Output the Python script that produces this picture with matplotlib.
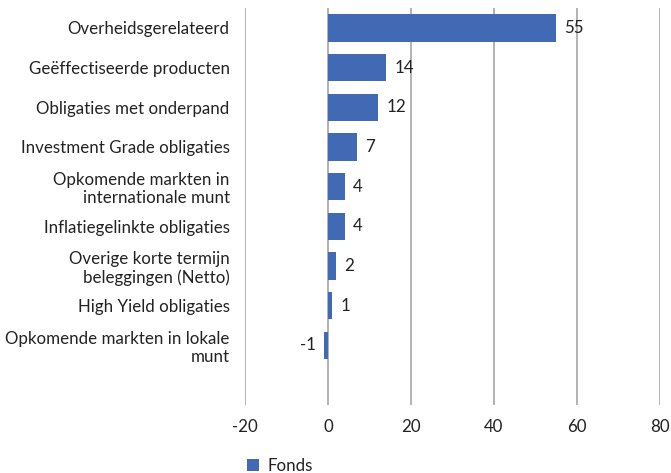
import matplotlib
matplotlib.use("Agg")
import matplotlib.pyplot as plt
import numpy as np

categories = [
    "Overheidsgerelateerd",
    "Geëffectiseerde producten",
    "Obligaties met onderpand",
    "Investment Grade obligaties",
    "Opkomende markten in\ninternationale munt",
    "Inflatiegelinkte obligaties",
    "Overige korte termijn\nbeleggingen (Netto)",
    "High Yield obligaties",
    "Opkomende markten in lokale\nmunt",
]
fonds = [55, 14, 12, 7, 4, 4, 2, 1, -1]
x_ticks = [-20, 0, 20, 40, 60, 80]

bar_color = "#4169b4"
text_color = "#222222"
grid_color = "#a6a6a6"

plt.rcParams["font.family"] = ["Lato", "DejaVu Sans"]
fs = 12.2

fig = plt.figure(figsize=(6.71, 4.73), dpi=100)
ax = fig.add_axes([245 / 671, 1 - 405 / 473, 415 / 671, 397 / 473])

y = np.arange(len(categories))
bars = ax.barh(y, fonds, height=0.69, color=bar_color, label="Fonds", zorder=3)

# waardelabels naast de balken
for yi, v in zip(y, fonds):
    if v >= 0:
        ax.text(v + 2, yi, str(v), va="center", ha="left", fontsize=fs, color=text_color)
    else:
        ax.text(v - 2, yi, str(v), va="center", ha="right", fontsize=fs, color=text_color)

ax.set_xlim(-20, 80)
ax.set_ylim(len(categories) + 0.5, -0.5)
ax.set_xticks(x_ticks)
ax.set_xticklabels([str(t) for t in x_ticks], fontsize=fs, color=text_color)
ax.set_yticks(y)
ax.set_yticklabels(categories, fontsize=fs, color=text_color, linespacing=1.15)
ax.tick_params(axis="both", length=0)
ax.tick_params(axis="y", pad=11)
ax.tick_params(axis="x", pad=10)
ax.grid(axis="x", color=grid_color, linewidth=1.2, zorder=0)
for s in ax.spines.values():
    s.set_visible(False)

fig.legend(handles=[bars], labels=["Fonds"], loc="lower left",
           bbox_to_anchor=(232 / 671, -0.035), frameon=False, fontsize=fs,
           handlelength=0.7, handleheight=0.7, handletextpad=0.5, labelcolor=text_color)

fig.savefig("out.png", dpi=100)
